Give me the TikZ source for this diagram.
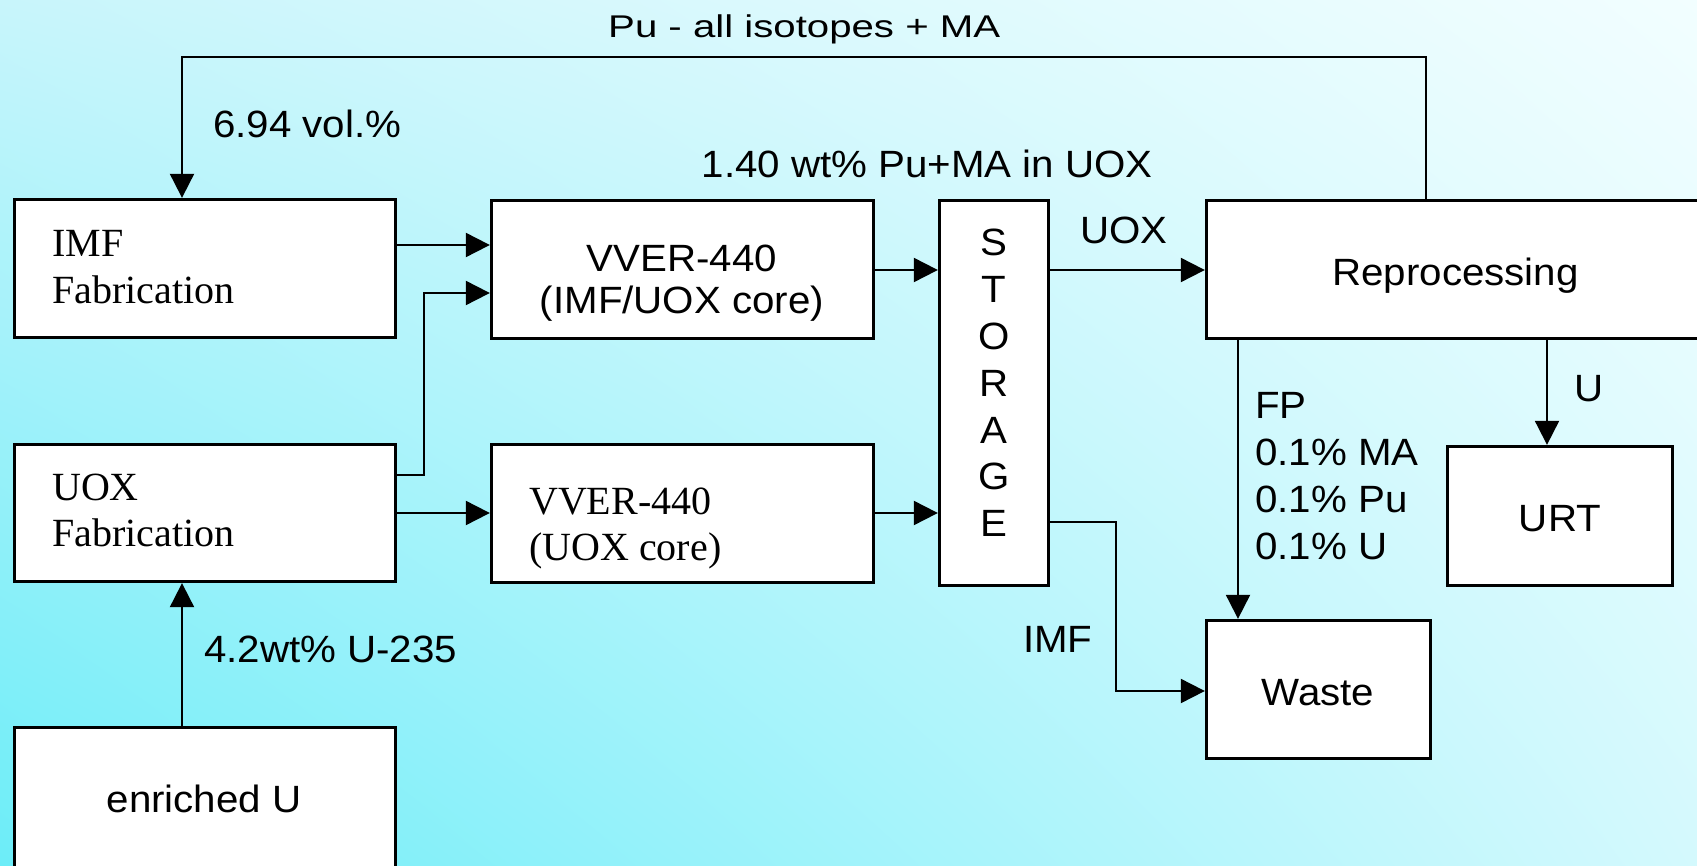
\documentclass[tikz,border=0pt]{standalone}
\usepackage{fontspec}
\usetikzlibrary{arrows.meta,shadings}
\newfontfamily\arialf[FakeStretch=1.06]{Liberation Sans}
\newfontfamily\titlef[FakeStretch=1.28]{Liberation Sans}
\newfontfamily\timesf{Liberation Serif}
\definecolor{bgUL}{HTML}{C8F5FB}
\definecolor{bgUR}{HTML}{F2FEFF}
\definecolor{bgLL}{HTML}{6CEDF8}
\definecolor{bgLR}{HTML}{D4F9FD}
\tikzset{
  box/.style={draw=black, fill=white, line width=3.3pt, inner sep=0pt, anchor=center},
  conn/.style={line width=2pt, draw=black},
  arr/.style={conn, -{Triangle[length=24pt,width=24pt]}},
  sanslbl/.style={font=\arialf\fontsize{38}{46.8}\selectfont, inner sep=0pt},
  titlelbl/.style={font=\titlef\fontsize{31.4}{38}\selectfont, inner sep=0pt},
  seriflbl/.style={font=\timesf\fontsize{40}{47.3}\selectfont, inner sep=0pt},
}
\begin{document}
\begin{tikzpicture}[x=1pt,y=-1pt]
\useasboundingbox (0,0) rectangle (1697,866);
\clip (0,0) rectangle (1697,866);
\shade[upper left=bgUL, upper right=bgUR, lower left=bgLL, lower right=bgLR] (0,0) rectangle (1697,866);

% boxes
\node[box, minimum width=381pt, minimum height=138pt] (imf) at (205,268.5) {};
\node[box, minimum width=382pt, minimum height=138pt] (vver1) at (682.5,269.5) {};
\node[box, minimum width=381pt, minimum height=137pt] (uox) at (205,513) {};
\node[box, minimum width=382pt, minimum height=138pt] (vver2) at (682.5,513.5) {};
\node[box, minimum width=381pt, minimum height=145pt] (enr) at (205,800) {};
\node[box, minimum width=109pt, minimum height=385pt] (stor) at (994,393) {};
\node[box, minimum width=498pt, minimum height=138pt] (reproc) at (1455.5,269.5) {};
\node[box, minimum width=225pt, minimum height=139pt] (urt) at (1560,516) {};
\node[box, minimum width=224pt, minimum height=138pt] (waste) at (1318.5,689.5) {};

% box texts
\node[seriflbl, anchor=base west] (imf-t) at (52,256.7)
  {\begin{tabular}[t]{@{}l@{}}IMF\\Fabrication\end{tabular}};
\node[seriflbl, anchor=base west, font=\timesf\fontsize{40}{46.7}\selectfont] (uox-t) at (52,500)
  {\begin{tabular}[t]{@{}l@{}}UOX\\Fabrication\end{tabular}};
\node[seriflbl, anchor=base west, font=\timesf\fontsize{40}{46}\selectfont] (vver2-t) at (529,514)
  {\begin{tabular}[t]{@{}l@{}}VVER-440\\(UOX core)\end{tabular}};
\node[sanslbl, anchor=base, font=\arialf\fontsize{38}{42}\selectfont] (vver1-t) at (682,271.7)
  {\begin{tabular}[t]{@{}c@{}}VVER-440\\(IMF/UOX core)\end{tabular}};
\node[sanslbl, anchor=base] (stor-t) at (994,256)
  {\begin{tabular}[t]{@{}c@{}}S\\T\\O\\R\\A\\G\\E\end{tabular}};
\node[sanslbl, anchor=base] (reproc-t) at (1455.5,286) {Reprocessing};
\node[sanslbl, anchor=base] (urt-t) at (1560,531.7) {URT};
\node[sanslbl, anchor=base] (waste-t) at (1318,705) {Waste};
\node[sanslbl, anchor=base] (enr-t) at (204,812.7) {enriched U};

% waypoints
\coordinate (loopR) at (1426,57);
\coordinate (loopL) at (182,57);
\coordinate (ya) at (0,245);
\coordinate (j1) at (424,475);
\coordinate (j1b) at (424,293);
\coordinate (yb) at (0,270);
\coordinate (j2) at (1116,522);
\coordinate (j2b) at (1116,691);
\coordinate (fpx) at (1238,0);
\coordinate (ux) at (1547,0);

% connectors
\draw[arr] (reproc.north -| loopR) |- (loopL) -- (imf.north -| loopL);
\draw[arr] (imf.east |- ya) -- (vver1.west |- ya);
\draw[arr] (uox.east |- j1) -- (j1) -- (j1b) -- (vver1.west |- j1b);
\draw[arr] (uox.east) -- (vver2.west |- uox.east);
\draw[arr] (enr.north -| loopL) -- (uox.south -| loopL);
\draw[arr] (vver1.east |- yb) -- (stor.west |- yb);
\draw[arr] (vver2.east |- uox.east) -- (stor.west |- uox.east);
\draw[arr] (stor.east |- yb) -- (reproc.west |- yb);
\draw[arr] (stor.east |- j2) -- (j2) -- (j2b) -- (waste.west |- j2b);
\draw[arr] (reproc.south -| fpx) -- (waste.north -| fpx);
\draw[arr] (reproc.south -| ux) -- (urt.north -| ux);

% labels
\node[titlelbl, anchor=base west] (ttl) at (608,37.3) {Pu - all isotopes + MA};
\node[sanslbl, anchor=base west] (vol) at (213,137.3) {6.94 vol.\%};
\node[sanslbl, anchor=base east] (wt) at (1153,178) {1.40 wt\% Pu+MA in UOX};
\node[sanslbl, anchor=base west] (uoxlbl) at (1080,244) {UOX};
\node[sanslbl, anchor=base west] (ulbl) at (1574,402) {U};
\node[sanslbl, anchor=base west, font=\arialf\fontsize{38}{47}\selectfont] (fp) at (1255,418)
  {\begin{tabular}[t]{@{}l@{}}FP\\0.1\% MA\\0.1\% Pu\\0.1\% U\end{tabular}};
\node[sanslbl, anchor=base west] (imflbl) at (1023,652) {IMF};
\node[sanslbl, anchor=base west] (u235) at (204,662) {4.2wt\% U-235};
\end{tikzpicture}
\end{document}
